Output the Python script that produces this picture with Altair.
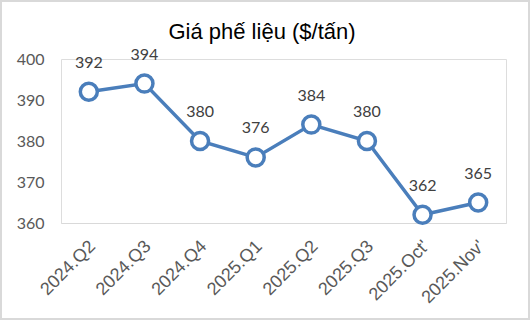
import altair as alt
import pandas as pd

categories = ["2024.Q2", "2024.Q3", "2024.Q4", "2025.Q1", "2025.Q2", "2025.Q3", "2025.Oct'", "2025.Nov'"]
values = [392, 394, 380, 376, 384, 380, 362, 365]
title_text = "Giá phế liệu ($/tấn)"

df = pd.DataFrame({"period": categories, "price": values})

W, H = 445, 164
L, T = 61, 59

x = alt.X("period:N", sort=categories, title=None,
          scale=alt.Scale(type="point", padding=0.5),
          axis=alt.Axis(labelAngle=-45, labelFont="Liberation Sans", labelFontSize=18,
                        labelColor="#595959", domainColor="#D9D9D9", domainWidth=1,
                        ticks=False, labelPadding=14, labelOffset=-3, grid=False))
y = alt.Y("price:Q", title=None,
          scale=alt.Scale(domain=[360, 400], nice=False, zero=False),
          axis=alt.Axis(values=[360, 370, 380, 390, 400], labelFont="Lato", labelFontSize=16,
                        labelColor="#595959", domain=False, ticks=False, grid=False,
                        labelPadding=17))

base = alt.Chart(df)
first = base.transform_filter(alt.datum.period == categories[0])

border = first.mark_rect(fill=None, stroke="#D9D9D9", strokeWidth=2).encode(
    x=alt.value(-L + 1), x2=alt.value(530 - L - 1),
    y=alt.value(-T + 1), y2=alt.value(320 - T - 1)
)
title = first.mark_text(font="Liberation Sans", fontSize=22, color="#000000",
                        baseline="middle", align="center").encode(
    x=alt.value(262 - L), y=alt.value(32 - T), text=alt.value(title_text)
)

line = base.mark_line(color="#4A7EBB", strokeWidth=3.5).encode(x=x, y=y)
points = base.mark_point(shape="circle", filled=True, fill="white", stroke="#4A7EBB",
                         strokeWidth=3.5, size=290, opacity=1).encode(x=x, y=y)
labels = base.mark_text(font="Lato", fontSize=16, color="#404040", baseline="middle",
                        dy=-29).encode(x=x, y=y, text=alt.Text("price:Q"))

chart = alt.layer(border, title, line, points, labels).properties(
    width=W, height=H,
    autosize=alt.AutoSizeParams(type="none"),
    padding={"left": L, "top": T, "right": 530 - L - W, "bottom": 320 - T - H},
).configure_view(stroke=None).configure(background="white")

chart.save("out.html", embed_options={"renderer": "svg", "actions": False})
